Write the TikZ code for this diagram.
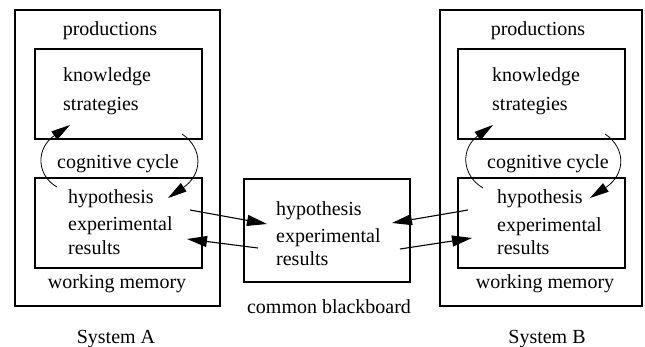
\documentclass[tikz,border=0pt]{standalone}
\usepackage{fontspec}
\setmainfont{Liberation Serif}
\usetikzlibrary{arrows.meta}
\tikzset{
  frame/.style={draw, line width=1.1pt, rectangle, inner sep=0pt},
  lbl/.style={inner sep=0pt, anchor=base west, font=\fontsize{20}{24}\selectfont},
  clbl/.style={lbl, anchor=base},
  link/.style={line width=1.1pt, -{Triangle[length=20pt,width=11pt]}},
  cyc/.style={line width=0.8pt, -{Triangle[length=19pt,width=10pt]}},
}
\begin{document}
\begin{tikzpicture}[x=1pt,y=-1pt]
\useasboundingbox (0,0) rectangle (645,346);

% ---- System A ----
\node[frame, minimum width=205pt, minimum height=296pt] (sysA) at (117.5,158) {};
\node[frame, minimum width=167pt, minimum height=90pt] (prodA) at (118.5,94) {};
\node[frame, minimum width=167pt, minimum height=90pt] (wmA) at (118.5,223) {};
\node[clbl] (prodAt) at (110,35) {productions};
\node[lbl] (knowA) at (63,81) {knowledge};
\node[lbl] (stratA) at (63,110) {strategies};
\node[lbl] (cycA) at (57,168) {cognitive cycle};
\node[lbl] (hypA) at (68,203) {hypothesis};
\node[lbl] (expA) at (68,230) {experimental};
\node[lbl] (resA) at (68,254) {results};
\node[clbl] (wmAt) at (117,288) {working memory};
\node[clbl] (nameA) at (116,343) {System A};

% ---- common blackboard ----
\node[frame, minimum width=166pt, minimum height=103pt] (bb) at (327,230.5) {};
\node[lbl] (hypC) at (276,215) {hypothesis};
\node[lbl] (expC) at (276,242) {experimental};
\node[lbl] (resC) at (276,265) {results};
\node[clbl] (bbt) at (329,313) {common blackboard};

% ---- System B ----
\node[frame, minimum width=202pt, minimum height=296pt] (sysB) at (541,158) {};
\node[frame, minimum width=167pt, minimum height=90pt] (prodB) at (541.5,94) {};
\node[frame, minimum width=167pt, minimum height=90pt] (wmB) at (541.5,223) {};
\node[clbl] (prodBt) at (538,35) {productions};
\node[lbl] (knowB) at (492,81) {knowledge};
\node[lbl] (stratB) at (492,110) {strategies};
\node[lbl] (cycB) at (487,168) {cognitive cycle};
\node[lbl] (hypB) at (497,203) {hypothesis};
\node[lbl] (expB) at (497,231) {experimental};
\node[lbl] (resB) at (497,254) {results};
\node[clbl] (wmBt) at (545,288) {working memory};
\node[clbl] (nameB) at (547,343) {System B};

% ---- cognitive cycle arcs ----
\coordinate (aL0) at (57,187);  \coordinate (aL1) at (70,125);
\coordinate (aR0) at (182,134); \coordinate (aR1) at (168,198);
\coordinate (bL0) at (483,188); \coordinate (bL1) at (493,125);
\coordinate (bR0) at (605,134); \coordinate (bR1) at (590,198);
\draw[cyc] (aL0) .. controls (36,175) and (36,148) .. (aL1);
\draw[cyc] (aR0) .. controls (203,148) and (203,174) .. (aR1);
\draw[cyc] (bL0) .. controls (461,175) and (461,148) .. (bL1);
\draw[cyc] (bR0) .. controls (626,148) and (626,174) .. (bR1);

% ---- exchange with the blackboard ----
\coordinate (ao) at (190,210); \coordinate (ci) at (267,224);
\coordinate (co) at (258,248); \coordinate (ai) at (187,239);
\coordinate (bo) at (468,210); \coordinate (cj) at (392,223);
\coordinate (cp) at (400,249); \coordinate (bi) at (472,238);
\draw[link] (ao) -- (ci);
\draw[link] (co) -- (ai);
\draw[link] (bo) -- (cj);
\draw[link] (cp) -- (bi);
\end{tikzpicture}
\end{document}
